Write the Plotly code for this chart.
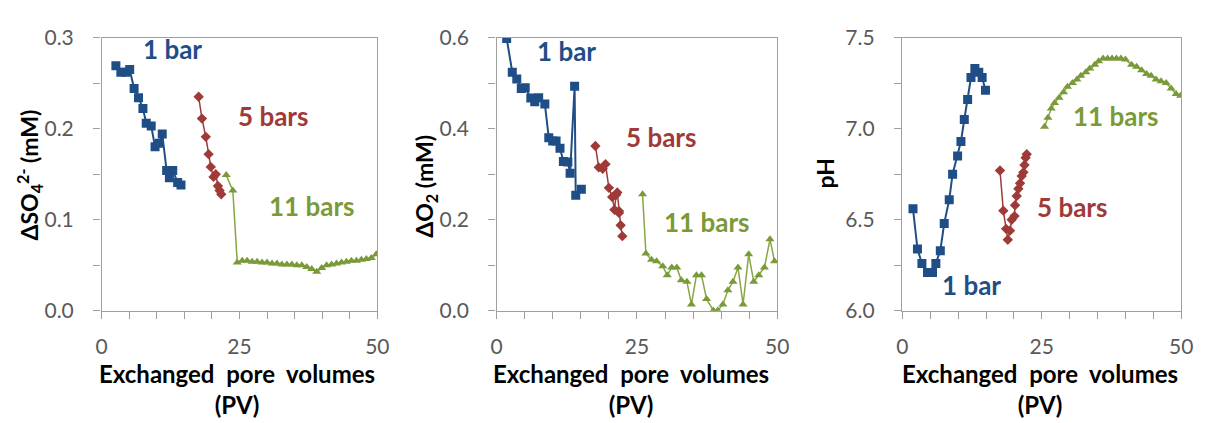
import plotly.graph_objects as go

# ---------------- data ----------------
# Panel 1: delta SO4 (mM)
so4_1bar_x = [2.6, 3.5, 4.4, 5.1, 5.9, 6.7, 7.5, 8.1, 9.0, 9.7, 10.5, 11.0, 11.8, 12.3, 12.9, 13.8, 14.4]
so4_1bar_y = [0.269, 0.262, 0.262, 0.265, 0.244, 0.234, 0.222, 0.206, 0.203, 0.180, 0.184, 0.194, 0.154, 0.146, 0.154, 0.141, 0.138]
so4_5bar_x = [17.6, 18.2, 18.9, 19.4, 19.8, 20.3, 20.7, 21.1, 21.4, 21.7]
so4_5bar_y = [0.235, 0.211, 0.191, 0.172, 0.158, 0.147, 0.150, 0.137, 0.132, 0.128]
so4_11bar_x = [22.6, 23.8, 24.6, 25.5, 26.4, 27.3, 28.2, 29.1, 30.0, 30.9, 31.8, 32.7, 33.6, 34.5, 35.4,
               36.3, 37.2, 38.1, 39.0, 39.9, 40.8, 41.7, 42.6, 43.5, 44.4, 45.3, 46.2, 47.1, 48.0, 48.9, 49.8]
so4_11bar_y = [0.149, 0.132, 0.053, 0.055, 0.055, 0.054, 0.054, 0.053, 0.053, 0.052, 0.052, 0.051, 0.051, 0.051, 0.050,
               0.050, 0.048, 0.046, 0.043, 0.047, 0.050, 0.051, 0.052, 0.053, 0.054, 0.055, 0.055, 0.056, 0.057, 0.058, 0.062]

# Panel 2: delta O2 (mM)
o2_1bar_x = [1.8, 2.8, 3.6, 4.4, 5.1, 6.1, 6.8, 7.5, 8.6, 9.3, 10.0, 10.6, 11.3, 11.9, 12.7, 13.1, 13.9, 14.1, 15.1]
o2_1bar_y = [0.598, 0.524, 0.509, 0.488, 0.490, 0.467, 0.459, 0.468, 0.454, 0.380, 0.373, 0.373, 0.357, 0.328, 0.327, 0.302, 0.493, 0.254, 0.267]
o2_5bar_x = [17.6, 18.2, 18.9, 19.4, 20.0, 20.6, 21.0, 21.3, 21.5, 21.8, 21.8, 22.1, 22.4]
o2_5bar_y = [0.362, 0.315, 0.312, 0.322, 0.270, 0.250, 0.222, 0.255, 0.260, 0.219, 0.215, 0.188, 0.164]
o2_11bar_x = [26.0, 26.6, 27.6, 28.5, 29.6, 30.4, 31.2, 32.1, 32.9, 33.9, 34.7, 35.6, 36.5, 37.4, 38.6, 39.4,
              40.3, 41.2, 42.1, 43.0, 43.9, 44.9, 45.8, 46.7, 47.7, 48.7, 49.5]
o2_11bar_y = [0.256, 0.126, 0.112, 0.109, 0.098, 0.078, 0.095, 0.095, 0.067, 0.064, 0.014, 0.078, 0.078, 0.026, 0.001, 0.001,
              0.014, 0.045, 0.064, 0.095, 0.014, 0.124, 0.064, 0.078, 0.095, 0.157, 0.109]

# Panel 3: pH
ph_1bar_x = [1.9, 2.7, 3.5, 4.5, 5.4, 6.0, 6.8, 7.5, 8.4, 9.0, 9.9, 10.5, 11.1, 11.7, 12.3, 13.0, 13.7, 14.3, 14.9]
ph_1bar_y = [6.56, 6.34, 6.26, 6.21, 6.21, 6.26, 6.33, 6.48, 6.61, 6.75, 6.85, 6.93, 7.05, 7.16, 7.28, 7.33, 7.31, 7.28, 7.21]
ph_5bar_x = [17.5, 18.1, 18.6, 18.9, 19.3, 19.6, 20.1, 20.2, 20.5, 20.8, 21.1, 21.4, 21.7, 21.9, 22.1, 22.3]
ph_5bar_y = [6.77, 6.55, 6.45, 6.39, 6.44, 6.50, 6.52, 6.58, 6.63, 6.67, 6.70, 6.74, 6.76, 6.80, 6.84, 6.86]
ph_11bar_x = [25.5, 26.1, 26.7, 27.3, 28.1, 28.9, 29.6, 30.5, 31.3, 32.0, 32.9, 33.6, 34.5, 35.2, 36.0, 36.8, 37.6,
              38.4, 39.2, 40.0, 41.1, 42.0, 42.9, 43.8, 44.6, 45.5, 46.4, 47.3, 48.2, 49.1, 49.9]
ph_11bar_y = [7.01, 7.06, 7.11, 7.14, 7.17, 7.20, 7.23, 7.25, 7.27, 7.29, 7.31, 7.33, 7.35, 7.37, 7.385, 7.385, 7.385,
              7.385, 7.385, 7.38, 7.35, 7.34, 7.32, 7.30, 7.29, 7.27, 7.26, 7.25, 7.22, 7.19, 7.18]

x_range = [0, 50]
x_tickvals = [0, 25, 50]
y_ranges = [[0, 0.3], [0, 0.6], [6.0, 7.5]]
y_dticks = [0.1, 0.2, 0.5]
y_titles = ["ΔSO<sub>4</sub><sup>2-</sup> (mM)", "ΔO<sub>2</sub> (mM)", "pH"]
x_title = "Exchanged\u00a0 pore\u00a0 volumes<br>(PV)"
labels = ["1 bar", "5 bars", "11 bars"]
# label centre positions in data units (per panel: 1 bar, 5 bars, 11 bars)
label_pos = [
    [(12.8, 0.287), (31.1, 0.214), (38.2, 0.115)],
    [(12.5, 0.570), (29.3, 0.381), (37.4, 0.194)],
    [(12.4, 6.143), (30.4, 6.571), (38.3, 7.071)],
]

# ---------------- style ----------------
BLUE = "#1F4E87"
RED = "#9E3A38"
GREEN = "#7A9A3A"
GREEN_LINE = "#86A844"
AXIS = "#A0A0A0"
TICKC = "#595959"
FONT = "Lato"
W, H = 1205, 423

x_px = [(97, 377), (498, 783), (910, 1193)]
y_px = (25, 315.5)
x_domains = [[a / W, b / W] for a, b in x_px]
y_domain = [1 - y_px[1] / H, 1 - y_px[0] / H]

data = [
    [(so4_1bar_x, so4_1bar_y), (so4_5bar_x, so4_5bar_y), (so4_11bar_x, so4_11bar_y)],
    [(o2_1bar_x, o2_1bar_y), (o2_5bar_x, o2_5bar_y), (o2_11bar_x, o2_11bar_y)],
    [(ph_1bar_x, ph_1bar_y), (ph_5bar_x, ph_5bar_y), (ph_11bar_x, ph_11bar_y)],
]
series_style = [
    dict(line=dict(color=BLUE, width=2), marker=dict(symbol="square", size=9, color=BLUE)),
    dict(line=dict(color=RED, width=1.5), marker=dict(symbol="diamond", size=8, color=RED)),
    dict(line=dict(color=GREEN_LINE, width=1.5), marker=dict(symbol="triangle-up", size=8, color=GREEN)),
]
label_colors = [BLUE, RED, GREEN]

fig = go.Figure()
layout = dict(
    width=W, height=H, margin=dict(l=0, r=0, t=0, b=0),
    paper_bgcolor="white", plot_bgcolor="white", showlegend=False,
    font=dict(family=FONT, size=21, color=TICKC),
)
annotations = []

for p in range(3):
    xa = "x" if p == 0 else f"x{p+1}"
    ya = "y" if p == 0 else f"y{p+1}"
    xkey = "xaxis" if p == 0 else f"xaxis{p+1}"
    ykey = "yaxis" if p == 0 else f"yaxis{p+1}"
    for s in range(3):
        xs, ys = data[p][s]
        fig.add_trace(go.Scatter(x=xs, y=ys, mode="lines+markers", xaxis=xa, yaxis=ya,
                                 **series_style[s]))
    layout[xkey] = dict(domain=x_domains[p], anchor=ya, range=x_range, tickvals=x_tickvals,
                        showline=True, linecolor=AXIS, linewidth=1.3, mirror=True,
                        ticks="outside", ticklen=7, tickcolor=AXIS, showgrid=False, zeroline=False,
                        ticklabelstandoff=10,
                        minor=dict(dtick=5, tick0=0, ticks="outside", ticklen=7, tickcolor=AXIS, showgrid=False),
                        tickfont=dict(family=FONT, size=21, color=TICKC))
    layout[ykey] = dict(domain=y_domain, anchor=xa, range=y_ranges[p], dtick=y_dticks[p], tick0=y_ranges[p][0],
                        tickformat=".1f", ticksuffix="\u00a0",
                        showline=True, linecolor=AXIS, linewidth=1.3, mirror=True,
                        ticks="outside", ticklen=7, tickcolor=AXIS, showgrid=False, zeroline=False,
                        ticklabelstandoff=10,
                        minor=dict(dtick=y_dticks[p] / 2, ticks="outside", ticklen=7, tickcolor=AXIS, showgrid=False),
                        tickfont=dict(family=FONT, size=21, color=TICKC))
    # overlay axes for the inward half of the major ticks
    ox = f"xaxis{p+4}"
    oy = f"yaxis{p+4}"
    layout[ox] = dict(domain=x_domains[p], anchor=f"y{p+4}", overlaying=xa, range=x_range, tickvals=x_tickvals,
                      showline=False, ticks="inside", ticklen=8, tickcolor=AXIS, showticklabels=False,
                      showgrid=False, zeroline=False)
    layout[oy] = dict(domain=y_domain, anchor=f"x{p+4}", overlaying=ya, range=y_ranges[p], dtick=y_dticks[p],
                      tick0=y_ranges[p][0], showline=False, ticks="inside", ticklen=8, tickcolor=AXIS,
                      showticklabels=False, showgrid=False, zeroline=False)

    # series labels
    for s in range(3):
        lx, ly = label_pos[p][s]
        annotations.append(dict(x=lx, y=ly, xref=xa, yref=ya, text=labels[s], showarrow=False,
                                xanchor="center", yanchor="middle",
                                font=dict(family=FONT, size=26, color=label_colors[s], weight="bold")))

# x-axis titles
x_title_cx = [234, 634, 1050]
for p in range(3):
    annotations.append(dict(x=x_title_cx[p] / W, y=1 - 399 / H, xref="paper", yref="paper", text=x_title,
                            showarrow=False, align="center", xanchor="center", yanchor="middle",
                            font=dict(family=FONT, size=24, color="black", weight="bold")))

# y-axis titles
y_title_cx = [24, 426, 831]
y_title_cy = [171, 183, 170]
for p in range(3):
    annotations.append(dict(x=y_title_cx[p] / W, y=1 - y_title_cy[p] / H, xref="paper", yref="paper",
                            text=y_titles[p], textangle=-90, showarrow=False,
                            xanchor="center", yanchor="middle",
                            font=dict(family=FONT, size=23, color="black", weight="bold")))

layout["annotations"] = annotations
fig.update_layout(**layout)
fig.write_html("out.html")
